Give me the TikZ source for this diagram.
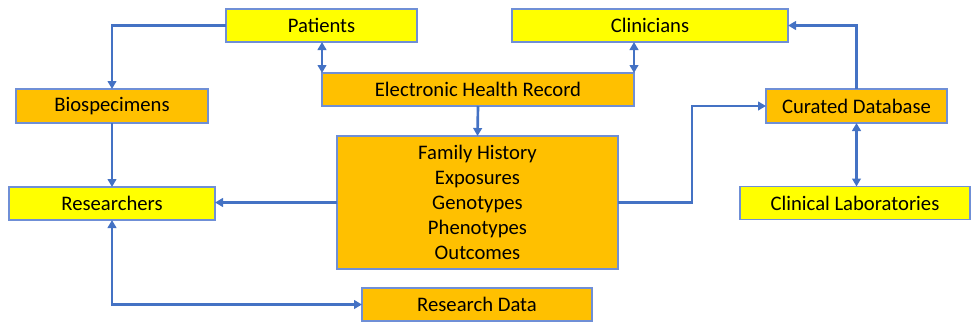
\documentclass[tikz,border=0pt]{standalone}
\usepackage{fontspec}
\setmainfont{Carlito}
\usetikzlibrary{arrows.meta}
\definecolor{boxyellow}{HTML}{FFFF00}
\definecolor{boxorange}{HTML}{FFC000}
\definecolor{edgeblue}{HTML}{6F8FD6}
\definecolor{linkblue}{HTML}{4472C4}
\begin{document}
\begin{tikzpicture}[x=0.75pt,y=-0.75pt,
  base/.style={draw=edgeblue,line width=0.8pt,inner sep=0pt,outer sep=0pt,font=\fontsize{15.5}{18.75}\selectfont,text=black,align=center},
  ybox/.style={base,fill=boxyellow},
  obox/.style={base,fill=boxorange},
  link/.style={draw=linkblue,line width=2pt,-{Triangle[length=6pt,width=6.5pt]}},
  dlink/.style={draw=linkblue,line width=2pt,{Triangle[length=6pt,width=6.5pt]}-{Triangle[length=6pt,width=6.5pt]}}]
\useasboundingbox (0,0) rectangle (971,325);
\node[ybox,minimum width=143.25pt,minimum height=24.75pt] (pat) at (321.5,25.5) {Patients};
\node[ybox,minimum width=207pt,minimum height=24.75pt] (clin) at (650,25.5) {Clinicians};
\node[obox,minimum width=234pt,minimum height=24.75pt] (ehr) at (478,89.5) {Electronic Health Record};
\node[obox,minimum width=144pt,minimum height=25.5pt] (bio) at (112,106) {Biospecimens};
\node[obox,minimum width=135.75pt,minimum height=25.5pt] (cur) at (856.5,106) {Curated Database};
\node[obox,minimum width=210.75pt,minimum height=99.75pt] (fam) at (477.5,202.5) {Family History\\Exposures\\Genotypes\\Phenotypes\\Outcomes};
\node[ybox,minimum width=154.5pt,minimum height=24.75pt] (res) at (112,203.5) {Researchers};
\node[ybox,minimum width=172.5pt,minimum height=24.75pt] (lab) at (855,203) {Clinical Laboratories};
\node[obox,minimum width=172.5pt,minimum height=24.75pt] (rd) at (477,304.5) {Research Data};
\draw[link] (pat.west) -| (bio.north);
\draw[link] (bio.south) -- (res.north);
\draw[dlink] (ehr.north west) -- (ehr.north west |- pat.south);
\draw[dlink] (ehr.north east) -- (ehr.north east |- clin.south);
\draw[link] (ehr.south) -- (fam.north);
\draw[link] (fam.west) -- (fam.west -| res.east);
\coordinate (bend) at (692,202.5);
\draw[link] (fam.east) -- (bend) |- (cur.west);
\draw[link] (cur.north) |- (clin.east);
\draw[dlink] (cur.south) -- (cur.south |- lab.north);
\draw[dlink] (res.south) |- (rd.west);
\end{tikzpicture}
\end{document}
